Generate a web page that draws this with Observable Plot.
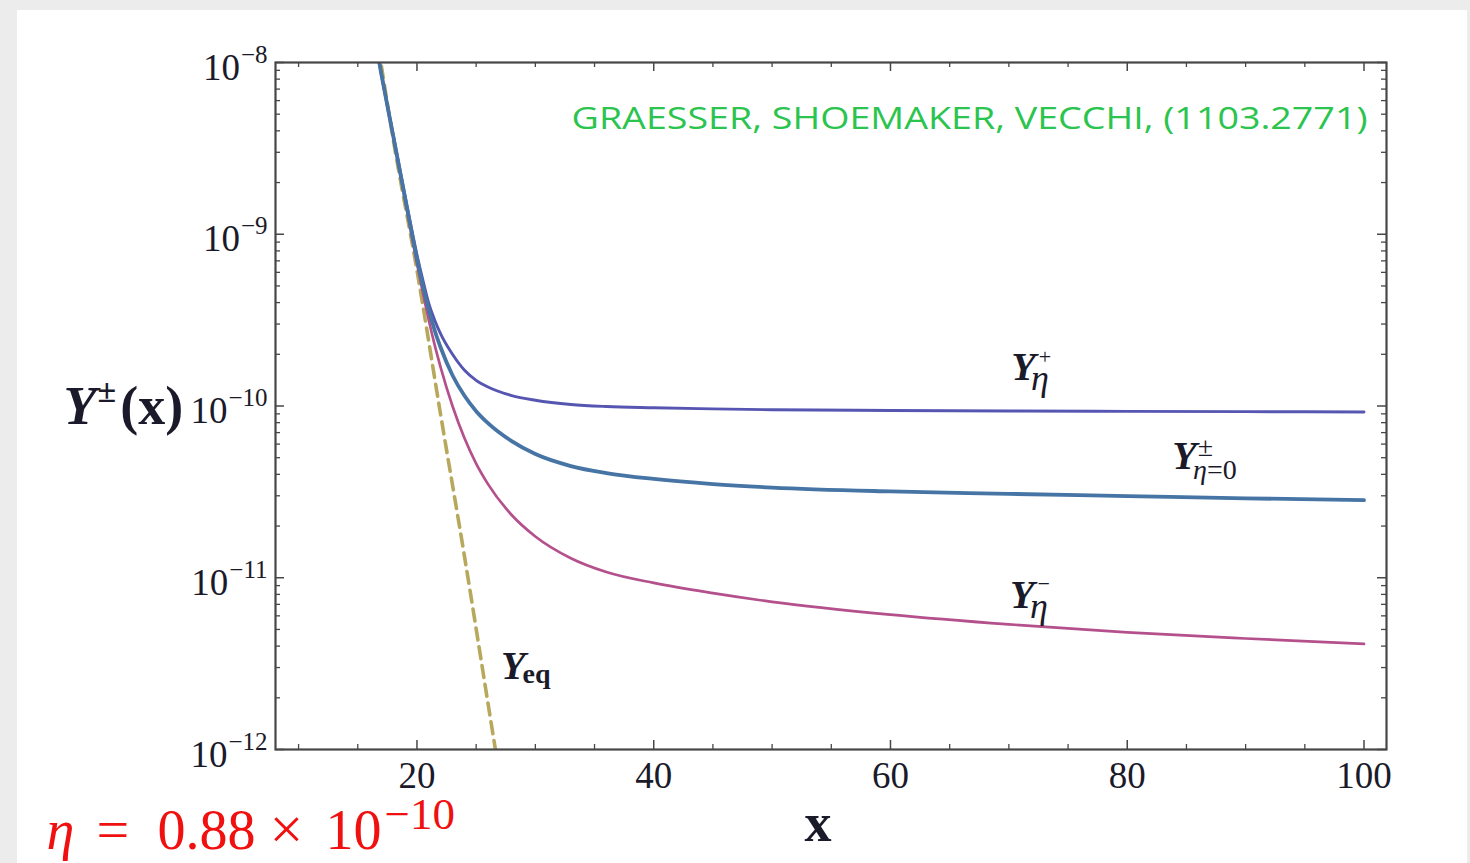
<!DOCTYPE html>
<html>
<head>
<meta charset="utf-8">
<script src="https://cdn.jsdelivr.net/npm/d3@7"></script>
<script src="https://cdn.jsdelivr.net/npm/@observablehq/plot@0.6"></script>
<style>
  html, body { margin:0; padding:0; width:1470px; height:863px; overflow:hidden; background:#ececec; }
  #panel { position:absolute; left:17px; top:10px; width:1450px; height:853px; background:#ffffff; }
  #panel svg { display:block; overflow:visible; }
</style>
</head>
<body>
<div id="panel"></div>
<script>
// ---------------- data ----------------
const xGrid  = [16.5, 17, 18, 19, 20, 20.5, 21, 21.5, 22, 23, 24, 25, 26, 28, 30, 33, 36, 40, 45, 50, 60, 70, 80, 90, 100];
const yPlus  = [1.34e-8, 8.6e-9, 3.78e-9, 1.67e-9, 7.6e-10, 5.4e-10, 3.95e-10, 3.16e-10, 2.63e-10, 2.00e-10, 1.62e-10, 1.41e-10, 1.29e-10, 1.15e-10, 1.08e-10, 1.02e-10, 9.93e-11, 9.77e-11, 9.62e-11, 9.51e-11, 9.42e-11, 9.35e-11, 9.31e-11, 9.27e-11, 9.23e-11];
const yZero  = [1.32e-8, 8.5e-9, 3.72e-9, 1.62e-9, 7.2e-10, 5.01e-10, 3.63e-10, 2.75e-10, 2.19e-10, 1.51e-10, 1.15e-10, 9.33e-11, 7.94e-11, 6.24e-11, 5.25e-11, 4.47e-11, 4.07e-11, 3.76e-11, 3.51e-11, 3.35e-11, 3.18e-11, 3.08e-11, 2.99e-11, 2.90e-11, 2.83e-11];
const yMinus = [1.30e-8, 8.4e-9, 3.67e-9, 1.58e-9, 6.76e-10, 4.57e-10, 3.16e-10, 2.26e-10, 1.68e-10, 1.00e-10, 6.53e-11, 4.62e-11, 3.51e-11, 2.32e-11, 1.74e-11, 1.30e-11, 1.08e-11, 9.33e-12, 8.13e-12, 7.24e-12, 6.10e-12, 5.35e-12, 4.81e-12, 4.43e-12, 4.12e-12];
const xEq = [16.5, 18, 20, 22, 24, 26, 27];
const yEq = [1.58e-8, 3.55e-9, 6.17e-10, 8.9e-11, 1.35e-11, 1.86e-12, 6.9e-13];

const xDomain = [8.05, 101.9];
const yDomain = [1e-12, 1e-8];
const xMajorTicks = [20, 40, 60, 80, 100];
const xMinorTicks = [10, 15, 25, 30, 35, 45, 50, 55, 65, 70, 75, 85, 90, 95];
const yMajorTicks = [1e-8, 1e-9, 1e-10, 1e-11, 1e-12];
const yTickLabels = ["10^−8", "10^−9", "10^−10", "10^−11", "10^−12"];
const yMinorTicks = [-12, -11, -10, -9].flatMap(e => [2, 3, 4, 5, 6, 7, 8, 9].map(m => m * Math.pow(10, e)));

const curveLabelKeys = ["Yη+", "Yη=0±", "Yη−", "Yeq"];
const curveLabelX = [70.2, 83.8, 70.1, 27.1];
const curveLabelY = [1.41e-10, 4.32e-11, 6.71e-12, 2.59e-12];

const yTitle = "Y±(x)";
const xTitle = "x";
const etaParts = ["η", "=", "0.88", "×", "10", "−10"];
const citation = "GRAESSER, SHOEMAKER, VECCHI, (1103.2771)";

// ---------------- chart ----------------
const W = 1450, H = 853, ML = 258, MR = 81, MT = 52, MB = 114;
const PW = W - ML - MR, PH = H - MT - MB;
const SERIF = "'Liberation Serif', 'Times New Roman', serif";
const FRAME = "#474747";
const INK = "#1a1a2a";
const RED = "#f01010";

const rows = xGrid.map((x, i) => ({x, plus: yPlus[i], zero: yZero[i], minus: yMinus[i]}));
const eqRows = xEq.map((x, i) => ({x, y: yEq[i]}));
const labelRows = curveLabelKeys.map((k, i) => ({k, x: curveLabelX[i], y: curveLabelY[i]}));

// formula pieces: [part index, dx, dy, fontSize, italic]
const etaStyle = [[0, -229, 99, 56, true], [1, -179, 99, 58, false], [2, -118, 99, 56, false],
                  [3, -6, 99, 60, false], [4, 50, 99, 56, false], [5, 109, 79, 45, false]];

const chart = Plot.plot({
  width: W, height: H,
  marginLeft: ML, marginRight: MR, marginTop: MT, marginBottom: MB,
  style: {fontFamily: SERIF, background: "none", overflow: "visible"},
  x: {domain: xDomain, axis: null},
  y: {type: "log", domain: yDomain, axis: null},
  marks: [
    Plot.line(eqRows, {x: "x", y: "y", stroke: "#b8a85c", strokeWidth: 3.6, strokeDasharray: "12,7", curve: "monotone-x", clip: true}),
    Plot.line(rows, {x: "x", y: "minus", stroke: "#b4508c", strokeWidth: 2.7, curve: "monotone-x", clip: true}),
    Plot.line(rows, {x: "x", y: "plus", stroke: "#5656b2", strokeWidth: 2.9, curve: "monotone-x", clip: true}),
    Plot.line(rows, {x: "x", y: "zero", stroke: "#4674a4", strokeWidth: 3.8, curve: "monotone-x", clip: true}),

    // frame ticks (inward, all four sides)
    Plot.tickY(yMinorTicks, {y: d => d, insetRight: PW - 5, stroke: FRAME, strokeWidth: 1.3}),
    Plot.tickY(yMinorTicks, {y: d => d, insetLeft: PW - 5, stroke: FRAME, strokeWidth: 1.3}),
    Plot.tickY(yMajorTicks, {y: d => d, insetRight: PW - 9, stroke: FRAME, strokeWidth: 1.5}),
    Plot.tickY(yMajorTicks, {y: d => d, insetLeft: PW - 9, stroke: FRAME, strokeWidth: 1.5}),
    Plot.tickX(xMinorTicks, {x: d => d, insetTop: PH - 5, stroke: FRAME, strokeWidth: 1.3}),
    Plot.tickX(xMinorTicks, {x: d => d, insetBottom: PH - 5, stroke: FRAME, strokeWidth: 1.3}),
    Plot.tickX(xMajorTicks, {x: d => d, insetTop: PH - 9, stroke: FRAME, strokeWidth: 1.5}),
    Plot.tickX(xMajorTicks, {x: d => d, insetBottom: PH - 9, stroke: FRAME, strokeWidth: 1.5}),
    Plot.frame({stroke: FRAME, strokeWidth: 2.2}),

    // tick labels
    Plot.text(xMajorTicks, {x: d => d, text: d => String(d), frameAnchor: "bottom", lineAnchor: "bottom", dy: 38, fontSize: 37, fill: INK}),
    Plot.text(yMajorTicks, {y: d => d, text: (d, i) => yTickLabels[i], frameAnchor: "left", textAnchor: "end", lineAnchor: "bottom", dx: -8, dy: 17, fontSize: 37, fill: INK}),

    // curve labels
    Plot.text(labelRows, {x: "x", y: "y", text: "k", textAnchor: "start", lineAnchor: "bottom", fontSize: 40, fill: INK}),

    // axis titles and notes
    Plot.text([yTitle], {text: d => d, frameAnchor: "top-left", textAnchor: "start", lineAnchor: "bottom", dx: -212, dy: 361, fontSize: 54, fontWeight: "bold", fill: INK}),
    Plot.text([xTitle], {text: d => d, frameAnchor: "bottom", lineAnchor: "bottom", dx: -13, dy: 91, fontSize: 54, fontWeight: "bold", fill: INK}),
    ...etaStyle.map(([i, dx, dy, fs, it]) => Plot.text([etaParts[i]], {text: d => d, frameAnchor: "bottom-left", textAnchor: "start", lineAnchor: "bottom", dx, dy, fontSize: fs, fontStyle: it ? "italic" : "normal", fill: RED})),
    Plot.text([citation], {text: d => d, frameAnchor: "top-right", textAnchor: "end", lineAnchor: "bottom", dx: -19, dy: 66, fontSize: 31, fill: "#2bc44e", fontFamily: "'Open Sans', sans-serif"})
  ]
});

document.getElementById("panel").appendChild(chart);

// ---------------- rich text (sub/superscripts) ----------------
const rich = {
  "Yη+": `<tspan font-weight="bold" font-style="italic">Y</tspan><tspan font-size="22" dx="3" dy="-16">+</tspan><tspan font-size="36" font-style="italic" dx="-20" dy="26">η</tspan>`,
  "Yη−": `<tspan font-weight="bold" font-style="italic">Y</tspan><tspan font-size="22" dx="3" dy="-17">−</tspan><tspan font-size="36" font-style="italic" dx="-20" dy="27">η</tspan>`,
  "Yη=0±": `<tspan font-weight="bold" font-style="italic">Y</tspan><tspan font-size="28" dx="1" dy="-13">±</tspan><tspan font-size="28" dx="-20" dy="23"><tspan font-style="italic">η</tspan>=0</tspan>`,
  "Yeq": `<tspan font-weight="bold" font-style="italic">Y</tspan><tspan font-size="28" font-weight="bold" dx="-3" dy="4">eq</tspan>`,
  "Y±(x)": `<tspan font-style="italic">Y</tspan><tspan font-size="34" dx="1" dy="-22">±</tspan><tspan dx="4" dy="22">(x)</tspan>`
};
chart.querySelectorAll("text").forEach(t => {
  const s = t.textContent;
  if (rich[s]) t.innerHTML = rich[s];
  else if (s.includes("^")) {
    const [base, sup] = s.split("^");
    t.innerHTML = `${base}<tspan font-size="25" dx="1" dy="-17">${sup}</tspan>`;
  } else if (s === citation) {
    t.setAttribute("textLength", "796");
    t.setAttribute("lengthAdjust", "spacingAndGlyphs");
  }
});
</script>
</body>
</html>
